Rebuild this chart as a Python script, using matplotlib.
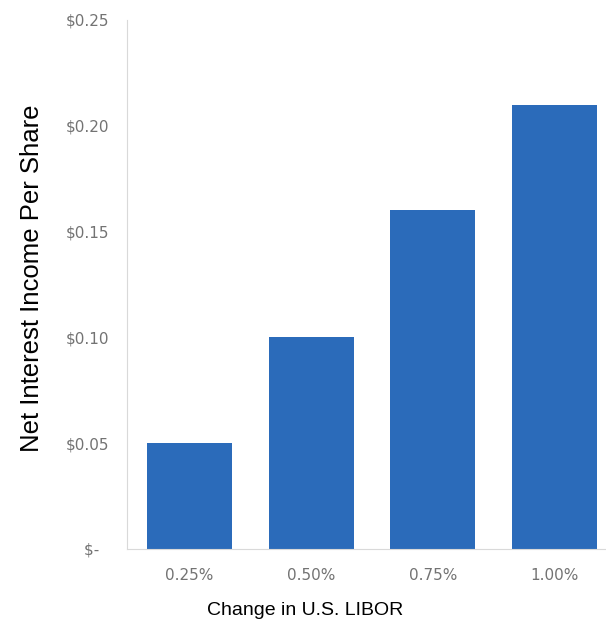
import matplotlib
matplotlib.use("Agg")
import matplotlib.pyplot as plt

categories = ["0.25%", "0.50%", "0.75%", "1.00%"]
values = [0.05, 0.10, 0.16, 0.21]
yticks = [0.0, 0.05, 0.10, 0.15, 0.20, 0.25]
ytick_labels = ["$-  ", "$0.05", "$0.10", "$0.15", "$0.20", "$0.25"]

plt.rcParams['font.family'] = ['DejaVu Sans']

fig = plt.figure(figsize=(6.06, 6.30), dpi=100)
ax = fig.add_axes([0.2096, 0.1286, 0.80, 0.8397])

x = range(len(categories))
ax.bar(x, values, width=0.7, color="#2B6BBA")

ax.set_xlim(-0.513, 3.47)
ax.set_ylim(0, 0.25)
ax.set_xticks(list(x))
ax.set_xticklabels(categories, color="#737373", fontsize=11)
ax.set_yticks(yticks)
ax.set_yticklabels(ytick_labels, color="#737373", fontsize=11)
ax.tick_params(axis="x", length=0, pad=14)
ax.tick_params(axis="y", length=0, pad=13)

for side in ["top", "right"]:
    ax.spines[side].set_visible(False)
for side in ["left", "bottom"]:
    ax.spines[side].set_color("#D9D9D9")

ax.set_xlabel("Change in U.S. LIBOR", fontsize=14, family=['Liberation Sans'])
ax.xaxis.set_label_coords(0.367, -0.117)
ax.xaxis.label.set_va("center")

ax.set_ylabel("Net Interest Income Per Share", fontsize=18.5,
              family=['Liberation Sans'])
ax.yaxis.set_label_coords(-0.196, 0.512)
ax.yaxis.label.set_va("center")

fig.savefig("out.png", dpi=100)
